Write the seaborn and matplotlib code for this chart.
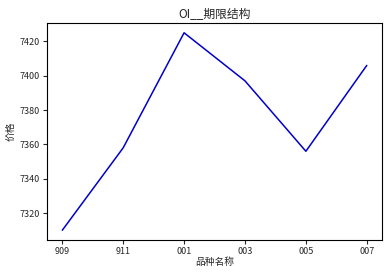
import matplotlib
matplotlib.use("Agg")
import matplotlib.pyplot as plt
import seaborn as sns
import pandas as pd

categories = ["909", "911", "001", "003", "005", "007"]
prices = [7310, 7358, 7425, 7397, 7356, 7406]

sns.set_style("ticks")
plt.rcParams['font.family'] = ['Noto Sans CJK SC', 'DejaVu Sans']
plt.rcParams['axes.unicode_minus'] = False

df = pd.DataFrame({"品种名称": categories, "价格": prices})

fig = plt.figure(figsize=(3.89, 2.76), dpi=100)
ax = fig.add_axes([0.121, 0.13, 0.861, 0.787])
sns.lineplot(data=df, x="品种名称", y="价格", color="#0000cc", linewidth=1.1, ax=ax, sort=False)
ax.set_title("OI__期限结构", fontsize=8.5, pad=4)
ax.set_xlabel("品种名称", fontsize=7, labelpad=1)
ax.set_ylabel("价格", fontsize=7, labelpad=3)
ax.tick_params(labelsize=6.5, length=3, width=0.8, pad=2)
for s in ax.spines.values():
    s.set_linewidth(0.8)
    s.set_color("black")
ax.margins(x=0.05, y=0.05)
fig.savefig("out.png", dpi=100)
